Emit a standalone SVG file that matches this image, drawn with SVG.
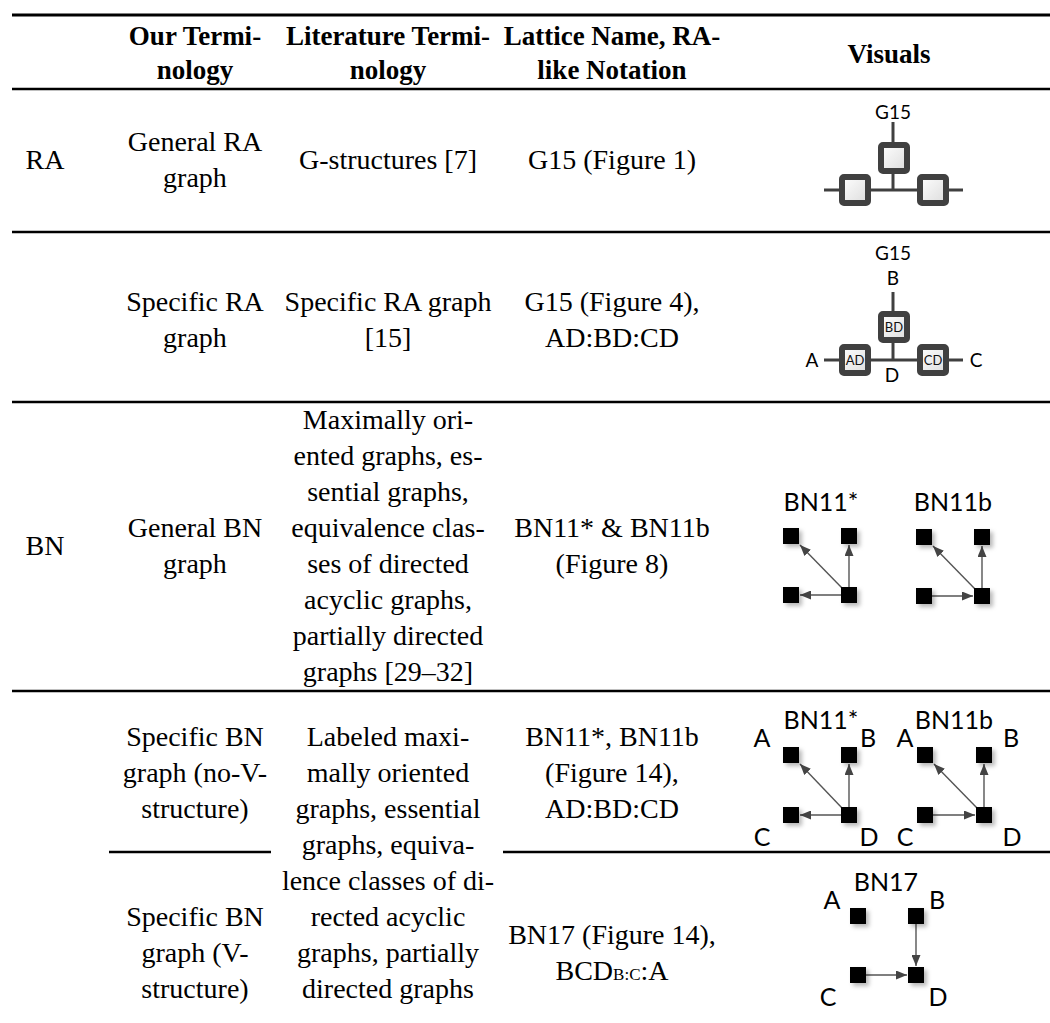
<svg xmlns="http://www.w3.org/2000/svg" width="1050" height="1023" viewBox="0 0 1050 1023">
  <defs>
    <linearGradient id="sqFill" x1="0" y1="0" x2="1" y2="1">
      <stop offset="0" stop-color="#ffffff"/>
      <stop offset="1" stop-color="#dcdcdc"/>
    </linearGradient>
    <filter id="shadow" x="-50%" y="-50%" width="200%" height="200%">
      <feDropShadow dx="3" dy="3" stdDeviation="2" flood-color="#000" flood-opacity="0.28"/>
    </filter>
    <marker id="arrow" markerUnits="userSpaceOnUse" markerWidth="11" markerHeight="9" refX="11" refY="4.5" orient="auto">
      <path d="M0,0 L11,4.5 L0,9 z" fill="#444"/>
    </marker>
  </defs>
  <style>
    .rule { stroke: #000; stroke-width: 2.5; }
    .hd { font-family: "Liberation Serif", serif; font-weight: bold; font-size: 27px; fill: #000; text-anchor: middle; }
    .tx { font-family: "Liberation Serif", serif; font-size: 28px; fill: #000; text-anchor: middle; }
    .sub { font-size: 17px; }
    .lab { font-family: Lato, "Liberation Sans", sans-serif; font-size: 19px; fill: #000; text-anchor: middle; }
    .big { font-size: 25px; }
    .inner { font-family: Lato, "Liberation Sans", sans-serif; font-size: 13px; fill: #111; text-anchor: middle; }
    .ra { fill: url(#sqFill); stroke: #404040; stroke-width: 6; }
    .link { stroke: #404040; stroke-width: 3; fill: none; }
    .bn { fill: #000; filter: url(#shadow); }
    .arc { stroke: #555; stroke-width: 1.4; fill: none; marker-end: url(#arrow); }
  </style>
  <rect width="1050" height="1023" fill="#fff"/>

  <!-- table rules -->
  <g id="rules">
    <line class="rule" x1="12" y1="15" x2="1050" y2="15" style="stroke-width:3"/>
    <line class="rule" x1="12" y1="89" x2="1050" y2="89"/>
    <line class="rule" x1="12" y1="232" x2="1050" y2="232"/>
    <line class="rule" x1="12" y1="402" x2="1050" y2="402"/>
    <line class="rule" x1="12" y1="691" x2="1050" y2="691"/>
    <line class="rule" x1="109" y1="852" x2="271" y2="852"/>
    <line class="rule" x1="503" y1="852" x2="1050" y2="852"/>
  </g>

  <!-- header -->
  <g id="header">
    <text class="hd" x="195" y="45">Our Termi-</text>
    <text class="hd" x="195" y="79">nology</text>
    <text class="hd" x="388" y="45">Literature Termi-</text>
    <text class="hd" x="388" y="79">nology</text>
    <text class="hd" x="612" y="45">Lattice Name, RA-</text>
    <text class="hd" x="612" y="79">like Notation</text>
    <text class="hd" x="889" y="63">Visuals</text>
  </g>

  <!-- row: general RA graph -->
  <g id="row-ra-general">
    <text class="tx" x="45" y="169">RA</text>
    <text class="tx" x="195" y="151">General RA</text>
    <text class="tx" x="195" y="187">graph</text>
    <text class="tx" x="388" y="169">G-structures [7]</text>
    <text class="tx" x="612" y="169">G15 (Figure 1)</text>
  </g>
  <g id="visual-g15">
    <text class="lab" x="893" y="119">G15</text>
    <g class="connectors">
      <line class="link" x1="893" y1="122" x2="893" y2="190"/>
      <line class="link" x1="824" y1="190" x2="963" y2="190"/>
    </g>
    <rect class="ra" x="881" y="145" width="26" height="26" rx="2"/>
    <rect class="ra" x="842" y="177" width="26" height="26" rx="2"/>
    <rect class="ra" x="920" y="177" width="26" height="26" rx="2"/>
  </g>

  <!-- row: specific RA graph -->
  <g id="row-ra-specific">
    <text class="tx" x="195" y="311">Specific RA</text>
    <text class="tx" x="195" y="347">graph</text>
    <text class="tx" x="388" y="311">Specific RA graph</text>
    <text class="tx" x="388" y="347">[15]</text>
    <text class="tx" x="612" y="311">G15 (Figure 4),</text>
    <text class="tx" x="612" y="347">AD:BD:CD</text>
  </g>
  <g id="visual-g15-labeled">
    <text class="lab" x="893" y="260">G15</text>
    <text class="lab" x="893" y="285">B</text>
    <g class="connectors">
      <line class="link" x1="893" y1="292" x2="893" y2="360"/>
      <line class="link" x1="824" y1="360" x2="963" y2="360"/>
    </g>
    <rect class="ra" x="881" y="314" width="26" height="26" rx="2"/>
    <rect class="ra" x="842" y="347" width="26" height="26" rx="2"/>
    <rect class="ra" x="920" y="347" width="26" height="26" rx="2"/>
    <text class="inner" x="894" y="332">BD</text>
    <text class="inner" x="855" y="365">AD</text>
    <text class="inner" x="933" y="365">CD</text>
    <text class="lab" x="812" y="367">A</text>
    <text class="lab" x="976" y="367">C</text>
    <text class="lab" x="892" y="382">D</text>
  </g>

  <!-- row: general BN graph -->
  <g id="row-bn-general">
    <text class="tx" x="45" y="555">BN</text>
    <text class="tx" x="195" y="537">General BN</text>
    <text class="tx" x="195" y="573">graph</text>
    <text class="tx" x="388" y="429">Maximally ori-</text>
    <text class="tx" x="388" y="465">ented graphs, es-</text>
    <text class="tx" x="388" y="501">sential graphs,</text>
    <text class="tx" x="388" y="537">equivalence clas-</text>
    <text class="tx" x="388" y="573">ses of directed</text>
    <text class="tx" x="388" y="609">acyclic graphs,</text>
    <text class="tx" x="388" y="645">partially directed</text>
    <text class="tx" x="388" y="681">graphs [29–32]</text>
    <text class="tx" x="612" y="537">BN11* &amp; BN11b</text>
    <text class="tx" x="612" y="573">(Figure 8)</text>
  </g>
  <g id="visual-bn11-star">
    <text class="lab big" x="821" y="511">BN11*</text>
    <g class="connectors">
      <line class="arc" x1="842" y1="588" x2="800" y2="545"/>
      <line class="arc" x1="849" y1="587" x2="849" y2="545"/>
      <line class="arc" x1="841" y1="595" x2="800" y2="595"/>
    </g>
    <rect class="bn" x="783" y="528" width="16" height="16"/>
    <rect class="bn" x="841" y="528" width="16" height="16"/>
    <rect class="bn" x="783" y="587" width="16" height="16"/>
    <rect class="bn" x="841" y="587" width="16" height="16"/>
  </g>
  <g id="visual-bn11b">
    <text class="lab big" x="953" y="511">BN11b</text>
    <g class="connectors">
      <line class="arc" x1="975" y1="589" x2="933" y2="546"/>
      <line class="arc" x1="982" y1="588" x2="982" y2="546"/>
      <line class="arc" x1="932" y1="596" x2="973" y2="596"/>
    </g>
    <rect class="bn" x="916" y="529" width="16" height="16"/>
    <rect class="bn" x="974" y="529" width="16" height="16"/>
    <rect class="bn" x="916" y="588" width="16" height="16"/>
    <rect class="bn" x="974" y="588" width="16" height="16"/>
  </g>

  <!-- rows: specific BN graphs (shared literature cell) -->
  <g id="row-bn-specific">
    <text class="tx" x="195" y="746">Specific BN</text>
    <text class="tx" x="195" y="782">graph (no-V-</text>
    <text class="tx" x="195" y="818">structure)</text>
    <text class="tx" x="388" y="746">Labeled maxi-</text>
    <text class="tx" x="388" y="782">mally oriented</text>
    <text class="tx" x="388" y="818">graphs, essential</text>
    <text class="tx" x="388" y="854">graphs, equiva-</text>
    <text class="tx" x="388" y="890">lence classes of di-</text>
    <text class="tx" x="388" y="926">rected acyclic</text>
    <text class="tx" x="388" y="962">graphs, partially</text>
    <text class="tx" x="388" y="998">directed graphs</text>
    <text class="tx" x="612" y="746">BN11*, BN11b</text>
    <text class="tx" x="612" y="782">(Figure 14),</text>
    <text class="tx" x="612" y="818">AD:BD:CD</text>
    <text class="tx" x="195" y="926">Specific BN</text>
    <text class="tx" x="195" y="962">graph (V-</text>
    <text class="tx" x="195" y="998">structure)</text>
    <text class="tx" x="612" y="944">BN17 (Figure 14),</text>
    <text class="tx" x="612" y="980">BCD<tspan class="sub">B:C</tspan>:A</text>
  </g>
  <g id="visual-bn11-star-labeled">
    <text class="lab big" x="821" y="729">BN11*</text>
    <text class="lab big" x="762" y="747">A</text>
    <text class="lab big" x="868" y="747">B</text>
    <text class="lab big" x="762" y="846">C</text>
    <text class="lab big" x="869" y="846">D</text>
    <g class="connectors">
      <line class="arc" x1="842" y1="808" x2="800" y2="764"/>
      <line class="arc" x1="849" y1="807" x2="849" y2="764"/>
      <line class="arc" x1="841" y1="815" x2="800" y2="815"/>
    </g>
    <rect class="bn" x="783" y="747" width="16" height="16"/>
    <rect class="bn" x="841" y="747" width="16" height="16"/>
    <rect class="bn" x="783" y="807" width="16" height="16"/>
    <rect class="bn" x="841" y="807" width="16" height="16"/>
  </g>
  <g id="visual-bn11b-labeled">
    <text class="lab big" x="954" y="729">BN11b</text>
    <text class="lab big" x="905" y="747">A</text>
    <text class="lab big" x="1011" y="747">B</text>
    <text class="lab big" x="905" y="846">C</text>
    <text class="lab big" x="1012" y="846">D</text>
    <g class="connectors">
      <line class="arc" x1="977" y1="808" x2="934" y2="764"/>
      <line class="arc" x1="984" y1="807" x2="984" y2="764"/>
      <line class="arc" x1="933" y1="815" x2="975" y2="815"/>
    </g>
    <rect class="bn" x="917" y="747" width="16" height="16"/>
    <rect class="bn" x="976" y="747" width="16" height="16"/>
    <rect class="bn" x="917" y="807" width="16" height="16"/>
    <rect class="bn" x="976" y="807" width="16" height="16"/>
  </g>
  <g id="visual-bn17">
    <text class="lab big" x="886" y="891">BN17</text>
    <text class="lab big" x="832" y="909">A</text>
    <text class="lab big" x="937" y="909">B</text>
    <text class="lab big" x="828" y="1006">C</text>
    <text class="lab big" x="938" y="1006">D</text>
    <g class="connectors">
      <line class="arc" x1="916" y1="924" x2="916" y2="966"/>
      <line class="arc" x1="866" y1="975" x2="907" y2="975"/>
    </g>
    <rect class="bn" x="850" y="908" width="16" height="16"/>
    <rect class="bn" x="908" y="908" width="16" height="16"/>
    <rect class="bn" x="850" y="967" width="16" height="16"/>
    <rect class="bn" x="908" y="967" width="16" height="16"/>
  </g>
</svg>
